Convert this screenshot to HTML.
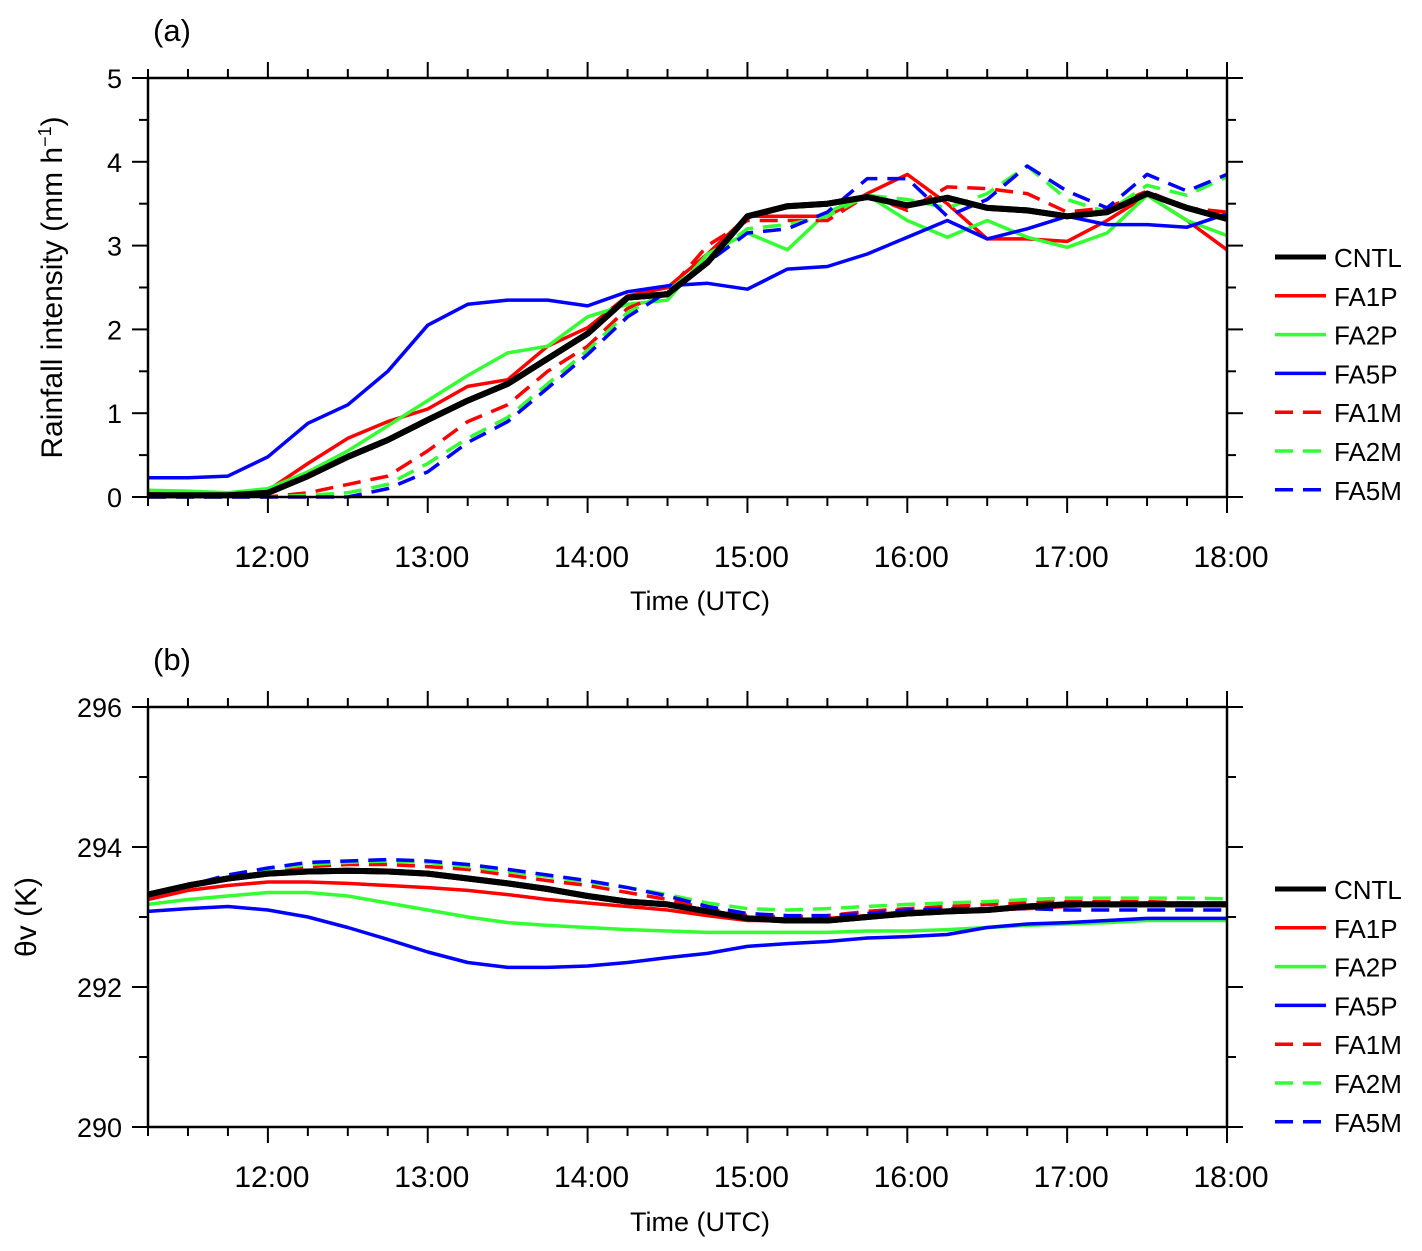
<!DOCTYPE html>
<html><head><meta charset="utf-8"><style>
html,body{margin:0;padding:0;background:#fff;}
svg{display:block;font-family:"Liberation Sans",sans-serif;}
</style></head><body>
<svg id="chart" width="1422" height="1251" viewBox="0 0 1422 1251"></svg>
<script>
const times=[11.25,11.5,11.75,12,12.25,12.5,12.75,13,13.25,13.5,13.75,14,14.25,14.5,14.75,15,15.25,15.5,15.75,16,16.25,16.5,16.75,17,17.25,17.5,17.75,18];
const seriesNames=["CNTL","FA1P","FA2P","FA5P","FA1M","FA2M","FA5M"];
const rainCNTL=[0.02,0.02,0.02,0.05,0.25,0.48,0.68,0.92,1.15,1.35,1.65,1.95,2.38,2.42,2.8,3.35,3.47,3.5,3.58,3.48,3.57,3.45,3.42,3.35,3.4,3.62,3.45,3.32];
const rainFA1P=[0.05,0.05,0.03,0.08,0.4,0.7,0.9,1.05,1.32,1.4,1.8,2.02,2.4,2.5,2.9,3.35,3.35,3.35,3.62,3.85,3.5,3.08,3.08,3.05,3.3,3.6,3.3,2.95];
const rainFA2P=[0.08,0.07,0.05,0.1,0.3,0.55,0.85,1.15,1.45,1.72,1.8,2.15,2.3,2.35,2.9,3.15,2.95,3.4,3.6,3.3,3.1,3.3,3.1,2.98,3.15,3.6,3.3,3.12];
const rainFA5P=[0.23,0.23,0.25,0.48,0.88,1.1,1.5,2.05,2.3,2.35,2.35,2.28,2.45,2.52,2.55,2.48,2.72,2.75,2.9,3.1,3.3,3.08,3.2,3.35,3.25,3.25,3.22,3.38];
const rainFA1M=[0,0,0,0,0.05,0.15,0.25,0.55,0.9,1.1,1.5,1.8,2.25,2.45,3.0,3.3,3.3,3.3,3.6,3.42,3.7,3.68,3.62,3.4,3.45,3.65,3.45,3.4];
const rainFA2M=[0,0,0,0,0.02,0.05,0.15,0.4,0.7,0.95,1.35,1.75,2.2,2.45,2.85,3.2,3.25,3.35,3.6,3.55,3.45,3.62,3.95,3.55,3.4,3.72,3.6,3.82];
const rainFA5M=[0,0,0,0,0,0,0.1,0.3,0.65,0.9,1.3,1.7,2.15,2.45,2.8,3.15,3.2,3.4,3.8,3.8,3.35,3.55,3.95,3.65,3.45,3.85,3.65,3.85];
const thCNTL=[293.32,293.45,293.55,293.62,293.65,293.66,293.65,293.62,293.55,293.48,293.4,293.3,293.22,293.18,293.08,292.98,292.95,292.95,293.0,293.05,293.08,293.1,293.15,293.18,293.18,293.18,293.18,293.18];
const thFA1P=[293.25,293.38,293.45,293.5,293.5,293.48,293.45,293.42,293.38,293.32,293.25,293.2,293.15,293.1,293.02,292.95,292.95,292.98,293.02,293.08,293.08,293.1,293.12,293.15,293.18,293.2,293.2,293.2];
const thFA2P=[293.18,293.25,293.3,293.35,293.35,293.3,293.2,293.1,293.0,292.92,292.88,292.85,292.82,292.8,292.78,292.78,292.78,292.78,292.8,292.8,292.82,292.85,292.88,292.9,292.92,292.95,292.95,292.95];
const thFA5P=[293.08,293.12,293.15,293.1,293.0,292.85,292.68,292.5,292.35,292.28,292.28,292.3,292.35,292.42,292.48,292.58,292.62,292.65,292.7,292.72,292.75,292.85,292.9,292.92,292.95,292.98,292.98,292.98];
const thFA1M=[293.3,293.45,293.58,293.65,293.72,293.75,293.75,293.72,293.68,293.6,293.52,293.45,293.35,293.25,293.12,293.02,293.0,293.02,293.08,293.12,293.15,293.18,293.2,293.22,293.22,293.22,293.2,293.2];
const thFA2M=[293.3,293.45,293.58,293.68,293.75,293.78,293.8,293.78,293.72,293.65,293.58,293.5,293.42,293.32,293.2,293.12,293.1,293.12,293.15,293.18,293.2,293.22,293.25,293.27,293.27,293.27,293.27,293.26];
const thFA5M=[293.3,293.45,293.6,293.7,293.78,293.8,293.82,293.8,293.75,293.68,293.6,293.52,293.42,293.3,293.15,293.05,293.02,293.02,293.05,293.1,293.12,293.12,293.12,293.1,293.1,293.1,293.1,293.1];
const xTickLabels=["12:00","13:00","14:00","15:00","16:00","17:00","18:00"];
const xTickHours=[12,13,14,15,16,17,18];
const rainTicks=[0,1,2,3,4,5];
const thTicks=[290,292,294,296];

const NS="http://www.w3.org/2000/svg";
const svg=document.getElementById("chart");
const colors=["#000","#f00","#3f3","#00f","#f00","#3f3","#00f"];
function mk(tag,attrs,parent){const e=document.createElementNS(NS,tag);for(const k in attrs)e.setAttribute(k,attrs[k]);(parent||svg).appendChild(e);return e;}
const X0=148,X1=1227,T0=11.25,T1=18;
function xs(t){return X0+(t-T0)/(T1-T0)*(X1-X0);}

function panel(cfg){
  const g=mk("g",{});
  
  
  const ys=v=>cfg.yb-(v-cfg.vmin)/(cfg.vmax-cfg.vmin)*(cfg.yb-cfg.yt);
  cfg.data.forEach((arr,i)=>{
    const pts=arr.map((v,j)=>xs(times[j]).toFixed(1)+","+ys(v).toFixed(1)).join(" ");
    const p=mk("polyline",{points:pts,fill:"none",stroke:colors[i],"stroke-width":i===0?6:3.5,"stroke-linejoin":"round","stroke-dasharray":i>=4?"18,10":"none"},g);
    
    
  });
  const top=mk("polyline",{points:cfg.data[0].map((v,j)=>xs(times[j]).toFixed(1)+","+ys(v).toFixed(1)).join(" "),fill:"none",stroke:"#000","stroke-width":6,"stroke-linejoin":"round"},g);
  
  
  const box=mk("rect",{x:X0,y:cfg.yt,width:X1-X0,height:cfg.yb-cfg.yt,fill:"none",stroke:"#000","stroke-width":2.5},g);
  
  
  for(let t=T0;t<=T1+1e-6;t+=0.25){
    const major=Math.abs(t-Math.round(t))<1e-6, L=major?16:9, x=xs(t);
    mk("line",{x1:x,x2:x,y1:cfg.yb,y2:cfg.yb+L,stroke:"#000","stroke-width":2},g);
    mk("line",{x1:x,x2:x,y1:cfg.yt,y2:cfg.yt-L,stroke:"#000","stroke-width":2},g);
  }
  xTickHours.forEach((h,i)=>{
    const t=mk("text",{x:xs(h)+4,y:cfg.yb+cfg.xlOff,"font-size":30,"text-anchor":"middle"},g);
    t.textContent=xTickLabels[i];
    
    
  });
  for(let v=cfg.vmin;v<=cfg.vmax+1e-6;v+=cfg.minor){
    const major=cfg.ticks.some(m=>Math.abs(m-v)<1e-6), L=major?16:9, y=ys(v);
    mk("line",{x1:X0,x2:X0-L,y1:y,y2:y,stroke:"#000","stroke-width":2},g);
    mk("line",{x1:X1,x2:X1+L,y1:y,y2:y,stroke:"#000","stroke-width":2},g);
  }
  cfg.ticks.forEach(v=>{
    const t=mk("text",{x:X0-26,y:ys(v)+10,"font-size":27,"text-anchor":"end"},g);
    t.textContent=v;
    
    
  });
  const xt=mk("text",{x:700,y:cfg.yb+cfg.xtOff,"font-size":27,"text-anchor":"middle"},g);
  xt.textContent="Time (UTC)";
  
  
  const yt=mk("text",{x:0,y:0,"font-size":30,"text-anchor":"middle",transform:`translate(${cfg.ytx},${(cfg.yt+cfg.yb)/2}) rotate(-90)`},g);
  yt.innerHTML=cfg.ytitle;
  
  
  const lab=mk("text",{x:153,y:cfg.yt-37,"font-size":31},g);
  lab.textContent=cfg.label;
  
  
  seriesNames.forEach((n,i)=>{
    const y=cfg.ly+i*38.8;
    const ln=mk("line",{x1:1275,x2:1326,y1:y,y2:y,stroke:colors[i],"stroke-width":i===0?5:3.5,"stroke-dasharray":i>=4?"18,10":"none"},g);
    
    
    const t=mk("text",{x:1334,y:y+10,"font-size":26},g);
    t.textContent=n;
    
    
  });
}
panel({name:"panel-a-rainfall",yt:78,yb:497,vmin:0,vmax:5,ticks:rainTicks,minor:0.5,label:"(a)",ytx:62,ly:257,xlOff:70,xtOff:113,
  ytitle:'Rainfall intensity (mm h<tspan dy="-11" font-size="18">−1</tspan><tspan dy="11">)</tspan>',
  data:[rainCNTL,rainFA1P,rainFA2P,rainFA5P,rainFA1M,rainFA2M,rainFA5M]});
panel({name:"panel-b-theta-v",yt:707,yb:1127,vmin:290,vmax:296,ticks:thTicks,minor:1,label:"(b)",ytx:36,ly:889,xlOff:60,xtOff:104,
  ytitle:'θv (K)',
  data:[thCNTL,thFA1P,thFA2P,thFA5P,thFA1M,thFA2M,thFA5M]});
</script>
</body></html>
